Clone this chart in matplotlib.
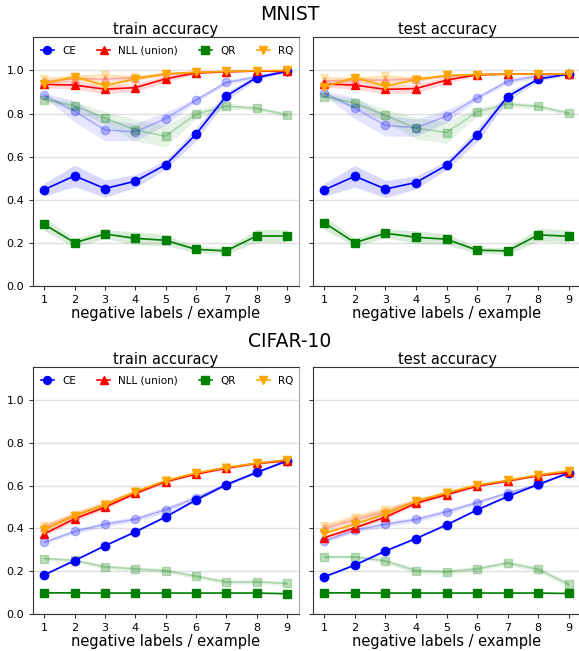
import numpy as np
import matplotlib
matplotlib.use("Agg")
import matplotlib.pyplot as plt

x = [1, 2, 3, 4, 5, 6, 7, 8, 9]
methods = ["CE", "NLL (union)", "QR", "RQ"]
colors = {"CE": "blue", "NLL (union)": "red", "QR": "green", "RQ": "orange"}
markers = {"CE": "o", "NLL (union)": "^", "QR": "s", "RQ": "v"}

# ---- MNIST train ----
mn_tr = {
    "CE": [0.447, 0.511, 0.452, 0.486, 0.562, 0.703, 0.881, 0.967, 0.995],
    "NLL (union)": [0.935, 0.932, 0.913, 0.920, 0.961, 0.988, 0.994, 0.997, 0.995],
    "QR": [0.286, 0.201, 0.241, 0.221, 0.212, 0.170, 0.163, 0.232, 0.232],
    "RQ": [0.938, 0.971, 0.930, 0.960, 0.985, 0.991, 0.995, 0.998, 1.000],
}
mn_tr_std = {
    "CE": [0.03, 0.05, 0.04, 0.03, 0.02, 0.03, 0.02, 0.01, 0.005],
    "NLL (union)": [0.015, 0.02, 0.02, 0.02, 0.015, 0.005, 0.003, 0.002, 0.002],
    "QR": [0.03, 0.02, 0.02, 0.03, 0.025, 0.015, 0.015, 0.03, 0.03],
    "RQ": [0.01, 0.01, 0.02, 0.01, 0.005, 0.003, 0.003, 0.002, 0.001],
}
mn_tr_b = {
    "CE": [0.885, 0.811, 0.724, 0.715, 0.776, 0.862, 0.944, 0.970, 0.998],
    "NLL (union)": [0.950, 0.960, 0.960, 0.965, 0.980, 0.990, 0.995, 0.997, 0.998],
    "QR": [0.865, 0.836, 0.780, 0.723, 0.695, 0.797, 0.834, 0.824, 0.794],
    "RQ": [0.961, 0.970, 0.977, 0.968, 0.985, 0.992, 0.995, 0.998, 0.999],
}
mn_tr_b_std = {
    "CE": [0.01, 0.05, 0.05, 0.04, 0.03, 0.01, 0.01, 0.01, 0.003],
    "NLL (union)": [0.01, 0.01, 0.01, 0.01, 0.005, 0.003, 0.002, 0.002, 0.001],
    "QR": [0.01, 0.02, 0.03, 0.05, 0.05, 0.02, 0.015, 0.01, 0.01],
    "RQ": [0.01, 0.01, 0.01, 0.01, 0.005, 0.003, 0.002, 0.002, 0.001],
}

# ---- MNIST test ----
mn_te = {
    "CE": [0.446, 0.509, 0.450, 0.480, 0.560, 0.700, 0.879, 0.960, 0.983],
    "NLL (union)": [0.937, 0.932, 0.912, 0.916, 0.955, 0.980, 0.983, 0.983, 0.983],
    "QR": [0.293, 0.201, 0.245, 0.226, 0.217, 0.166, 0.163, 0.237, 0.231],
    "RQ": [0.924, 0.967, 0.927, 0.957, 0.977, 0.981, 0.983, 0.983, 0.984],
}
mn_te_std = {
    "CE": [0.03, 0.05, 0.04, 0.03, 0.02, 0.03, 0.02, 0.01, 0.005],
    "NLL (union)": [0.015, 0.02, 0.02, 0.02, 0.015, 0.005, 0.003, 0.002, 0.002],
    "QR": [0.03, 0.02, 0.02, 0.03, 0.025, 0.015, 0.015, 0.03, 0.03],
    "RQ": [0.01, 0.01, 0.02, 0.01, 0.005, 0.003, 0.003, 0.002, 0.001],
}
mn_te_b = {
    "CE": [0.896, 0.825, 0.745, 0.734, 0.788, 0.872, 0.950, 0.974, 0.985],
    "NLL (union)": [0.950, 0.955, 0.955, 0.960, 0.972, 0.980, 0.983, 0.983, 0.984],
    "QR": [0.879, 0.848, 0.791, 0.732, 0.712, 0.808, 0.844, 0.833, 0.802],
    "RQ": [0.963, 0.962, 0.972, 0.962, 0.977, 0.981, 0.983, 0.983, 0.984],
}
mn_te_b_std = {
    "CE": [0.01, 0.05, 0.05, 0.04, 0.03, 0.01, 0.01, 0.01, 0.003],
    "NLL (union)": [0.01, 0.01, 0.01, 0.01, 0.005, 0.003, 0.002, 0.002, 0.001],
    "QR": [0.01, 0.02, 0.03, 0.05, 0.05, 0.02, 0.015, 0.01, 0.01],
    "RQ": [0.01, 0.01, 0.01, 0.01, 0.005, 0.003, 0.002, 0.002, 0.001],
}

# ---- CIFAR-10 train ----
cf_tr = {
    "CE": [0.183, 0.250, 0.319, 0.384, 0.454, 0.533, 0.605, 0.662, 0.716],
    "NLL (union)": [0.375, 0.445, 0.499, 0.564, 0.619, 0.654, 0.682, 0.704, 0.716],
    "QR": [0.099, 0.099, 0.098, 0.098, 0.098, 0.098, 0.098, 0.098, 0.095],
    "RQ": [0.394, 0.459, 0.510, 0.571, 0.623, 0.659, 0.685, 0.705, 0.721],
}
cf_tr_std = {
    "CE": [0.005, 0.005, 0.005, 0.005, 0.005, 0.005, 0.005, 0.005, 0.004],
    "NLL (union)": [0.01, 0.01, 0.01, 0.008, 0.006, 0.005, 0.005, 0.004, 0.004],
    "QR": [0.003, 0.003, 0.003, 0.003, 0.003, 0.003, 0.003, 0.003, 0.003],
    "RQ": [0.01, 0.01, 0.01, 0.008, 0.006, 0.005, 0.005, 0.004, 0.004],
}
cf_tr_b = {
    "CE": [0.335, 0.386, 0.420, 0.443, 0.487, 0.543, 0.605, 0.662, 0.716],
    "NLL (union)": [0.405, 0.462, 0.512, 0.570, 0.622, 0.658, 0.684, 0.705, 0.720],
    "QR": [0.259, 0.251, 0.220, 0.211, 0.202, 0.177, 0.149, 0.150, 0.143],
    "RQ": [0.412, 0.465, 0.515, 0.573, 0.625, 0.660, 0.686, 0.706, 0.721],
}
cf_tr_b_std = {
    "CE": [0.008, 0.01, 0.012, 0.012, 0.015, 0.012, 0.008, 0.005, 0.004],
    "NLL (union)": [0.015, 0.015, 0.015, 0.01, 0.008, 0.006, 0.005, 0.004, 0.004],
    "QR": [0.008, 0.008, 0.01, 0.01, 0.01, 0.01, 0.01, 0.01, 0.01],
    "RQ": [0.015, 0.015, 0.015, 0.01, 0.008, 0.006, 0.005, 0.004, 0.004],
}

# ---- CIFAR-10 test ----
cf_te = {
    "CE": [0.174, 0.229, 0.295, 0.353, 0.417, 0.487, 0.550, 0.606, 0.660],
    "NLL (union)": [0.357, 0.403, 0.453, 0.518, 0.558, 0.598, 0.622, 0.647, 0.662],
    "QR": [0.099, 0.099, 0.098, 0.098, 0.098, 0.098, 0.098, 0.098, 0.096],
    "RQ": [0.377, 0.420, 0.468, 0.527, 0.566, 0.603, 0.625, 0.650, 0.670],
}
cf_te_std = cf_tr_std
cf_te_b = {
    "CE": [0.341, 0.391, 0.420, 0.442, 0.478, 0.521, 0.566, 0.605, 0.660],
    "NLL (union)": [0.400, 0.440, 0.478, 0.527, 0.566, 0.600, 0.624, 0.648, 0.664],
    "QR": [0.267, 0.267, 0.248, 0.202, 0.197, 0.211, 0.239, 0.209, 0.138],
    "RQ": [0.412, 0.450, 0.484, 0.530, 0.569, 0.604, 0.626, 0.650, 0.670],
}
cf_te_b_std = {
    "CE": [0.008, 0.01, 0.012, 0.012, 0.012, 0.01, 0.008, 0.005, 0.004],
    "NLL (union)": [0.015, 0.02, 0.02, 0.012, 0.008, 0.006, 0.005, 0.004, 0.004],
    "QR": [0.008, 0.008, 0.01, 0.012, 0.012, 0.01, 0.01, 0.012, 0.012],
    "RQ": [0.015, 0.02, 0.02, 0.012, 0.008, 0.006, 0.005, 0.004, 0.004],
}

panels = [
    ("train accuracy", mn_tr, mn_tr_std, mn_tr_b, mn_tr_b_std),
    ("test accuracy", mn_te, mn_te_std, mn_te_b, mn_te_b_std),
    ("train accuracy", cf_tr, cf_tr_std, cf_tr_b, cf_tr_b_std),
    ("test accuracy", cf_te, cf_te_std, cf_te_b, cf_te_b_std),
]

W, H = 579, 651
fig = plt.figure(figsize=(W / 100, H / 100), dpi=100)

def rect(l, t, r, b):
    return [l / W, 1 - b / H, (r - l) / W, (b - t) / H]

rects = [rect(33, 37, 299, 286), rect(313, 37, 581, 286),
         rect(33, 367, 299, 614), rect(313, 367, 581, 614)]

MS = 6
for i, (title, main, mstd, alt, astd) in enumerate(panels):
    ax = fig.add_axes(rects[i])
    # faded variant
    for m in methods:
        v = np.array(alt[m]); s = np.array(astd[m])
        ax.fill_between(x, v - s, v + s, color=colors[m], alpha=0.1, lw=0)
        ax.plot(x, v, color=colors[m], marker=markers[m], ms=MS, lw=1.2,
                alpha=0.25)
    handles = []
    for m in methods:
        v = np.array(main[m]); s = np.array(mstd[m])
        ax.fill_between(x, v - s, v + s, color=colors[m], alpha=0.15, lw=0)
        h, = ax.plot(x, v, color=colors[m], marker=markers[m], ms=MS, lw=1.2,
                     label=m)
        handles.append(h)
    ax.set_xlim(0.63, 9.4)
    ax.set_ylim(0, 1.155)
    ax.set_xticks(x)
    ax.set_yticks([0.0, 0.2, 0.4, 0.6, 0.8, 1.0])
    ax.yaxis.grid(True, color="#e0e0e0", lw=1)
    ax.set_axisbelow(True)
    ax.tick_params(labelsize=8, length=3, color="#333333")
    if i % 2 == 1:
        ax.set_yticklabels([])
    for sp in ["left", "bottom", "top"]:
        ax.spines[sp].set_color("#333333")
    ax.spines["right"].set_color("#aaaaaa")
    ax.set_title(title, fontsize=10.5, pad=2)
    ax.set_xlabel("negative labels / example", fontsize=10.5, labelpad=1)
    if i % 2 == 0:
        ax.legend(handles=handles, loc="upper left", ncol=4, frameon=False,
                  fontsize=7.5, handlelength=1.25, columnspacing=2.0,
                  handletextpad=0.8, borderpad=0, borderaxespad=0,
                  markerscale=0.95, bbox_to_anchor=(0.03, 0.965))

fig.text(290 / W, 1 - 14 / H, "MNIST", ha="center", va="center", fontsize=13.5)
fig.text(290 / W, 1 - 342 / H, "CIFAR-10", ha="center", va="center", fontsize=13.5)

fig.savefig("out.png", dpi=100)
